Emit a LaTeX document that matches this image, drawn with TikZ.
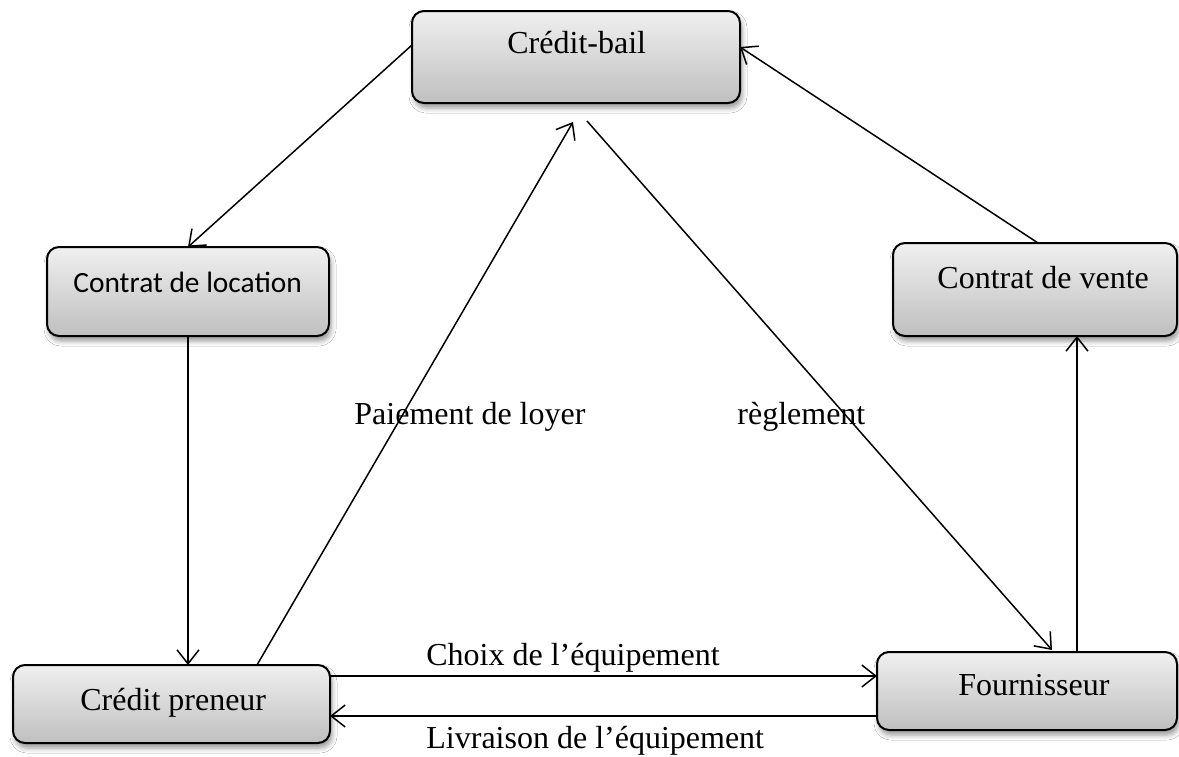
\documentclass[tikz,border=0pt]{standalone}
\usepackage{fontspec}
\setmainfont{Liberation Serif}
\newfontfamily\calibrifont{Carlito}
\usetikzlibrary{arrows.meta,calc,shadows.blur}

\definecolor{boxtop}{gray}{0.94}
\definecolor{boxbot}{gray}{0.75}

\tikzset{
  box/.style={draw, line width=1pt, rounded corners=6pt, inner sep=0pt, outer sep=0pt,
    top color=boxtop, bottom color=boxbot,
    blur shadow={shadow xshift=1pt, shadow yshift=-2.5pt, shadow blur radius=2.5pt, shadow opacity=40}},
  boxtext/.style={anchor=base west, inner sep=0pt, font=\fontsize{16}{19}\selectfont},
  edgelabel/.style={anchor=base west, inner sep=0pt, font=\fontsize{16}{19}\selectfont},
  flow/.style={line width=0.75pt, -{Straight Barb[length=7pt,width=11pt,line width=0.75pt]}}
}

\begin{document}
\begin{tikzpicture}[x=0.5pt,y=-0.5pt]
  \useasboundingbox[fill=white] (0,0) rectangle (1179,756);

  % boxes
  \node[box, minimum width=164pt, minimum height=46pt] (cb) at (576,57) {};
  \node[box, minimum width=141pt, minimum height=44.5pt] (cl) at (188,291.5) {};
  \node[box, minimum width=158.5pt, minimum height=39pt] (cp) at (171.5,704) {};
  \node[box, minimum width=150pt, minimum height=39pt] (fo) at (1027,691) {};
  \node[box, minimum width=142pt, minimum height=46.5pt] (cv) at (1035,289.5) {};

  % box captions
  \node[boxtext] (cbt) at (507,53) {Crédit-bail};
  \node[boxtext, font=\calibrifont\fontsize{14.7}{17}\selectfont] (clt) at (73,292) {Contrat de location};
  \node[boxtext] (cpt) at (80,710) {Crédit preneur};
  \node[boxtext] (fot) at (958,695) {Fournisseur};
  \node[boxtext] (cvt) at (937,288) {Contrat de vente};

  % connectors
  \draw[flow] ($(cb.west)+(0,-12)$) -- (cl.north);
  \draw[flow] (cl.south) -- (cl.south |- cp.north);
  \draw[flow] ($(cp.north)+(85.5,0)$) -- ($(cb.south)+(-3,19)$);
  \draw[flow] ($(cb.south)+(11,18)$) -- ($(fo.north)+(25,-2)$);
  \draw[flow] ($(fo.north)+(50,0)$) -- ($(cv.south)+(42,0)$);
  \draw[flow] ($(cv.north)+(3,0)$) -- ($(cb.east)+(0,-10)$);

  \coordinate (c1) at ($(cp.east)+(0,-28)$);
  \coordinate (c2) at ($(cp.east)+(0,12)$);
  \draw[flow] (c1) -- (c1 -| fo.west);
  \draw[flow] (c2 -| fo.west) -- (c2);

  % connector labels
  \node[edgelabel] (l1) at (354,424) {Paiement de loyer};
  \node[edgelabel] (l2) at (737,424) {règlement};
  \node[edgelabel] (l3) at (426,665) {Choix de l’équipement};
  \node[edgelabel] (l4) at (426,748) {Livraison de l’équipement};
\end{tikzpicture}
\end{document}
